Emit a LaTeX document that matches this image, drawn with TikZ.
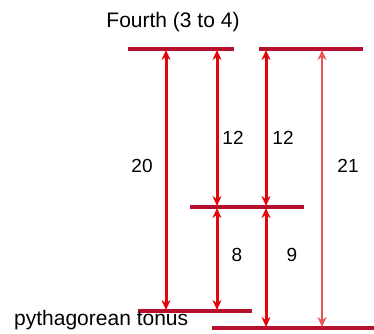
\documentclass[tikz,border=0pt]{standalone}
\usepackage{fontspec}
\setmainfont{Liberation Sans}
\usetikzlibrary{arrows.meta}
\definecolor{linered}{HTML}{B5102E}
\definecolor{arrred}{HTML}{E00808}
\definecolor{lightred}{HTML}{E85555}
\begin{document}
\begin{tikzpicture}[x=1pt,y=-1pt,
  level/.style={draw=linered,line width=3.4pt},
  interval/.style={draw=arrred,line width=3pt,{Stealth[length=10pt,width=9pt]}-{Stealth[length=10pt,width=9pt]}},
  lbl/.style={font=\fontsize{19}{19}\selectfont,inner sep=0pt},
  ttl/.style={font=\fontsize{21}{21}\selectfont,inner sep=0pt}]
\useasboundingbox (0,0) rectangle (374,333);
% levels
\coordinate (t1a) at (128,49); \coordinate (t1b) at (234,49);
\coordinate (t2a) at (259,49); \coordinate (t2b) at (363,49);
\coordinate (ma) at (190,207); \coordinate (mb) at (304,207);
\coordinate (la) at (138,311); \coordinate (lb) at (252,311);
\coordinate (ba) at (212,328); \coordinate (bb) at (374,328);
\draw[level] (t1a) -- (t1b);
\draw[level] (t2a) -- (t2b);
\draw[level] (ma) -- (mb);
\draw[level] (la) -- (lb);
\draw[level] (ba) -- (bb);
% arrow endpoints
\coordinate (a20t) at (166,50); \coordinate (a20b) at (166,310);
\coordinate (a12t) at (217,50); \coordinate (a12b) at (217,206);
\coordinate (b12t) at (266,50); \coordinate (b12b) at (266,206);
\coordinate (a21t) at (322,50); \coordinate (a21b) at (322,327);
\coordinate (a8t) at (217,208); \coordinate (a8b) at (217,310);
\coordinate (a9t) at (266,208); \coordinate (a9b) at (266,327);
\draw[interval] (a20t) -- (a20b);
\draw[interval] (a12t) -- (a12b);
\draw[interval] (b12t) -- (b12b);
\draw[interval,draw=lightred,line width=2.4pt] (a21t) -- (a21b);
\draw[interval] (a8t) -- (a8b);
\draw[interval] (a9t) -- (a9b);
% labels
\node[ttl] (title) at (173,22) {Fourth (3 to 4)};
\node[ttl,anchor=west] (pt) at (14,320) {pythagorean tonus};
\node[lbl] (l20) at (142,166) {20};
\node[lbl] (l12a) at (233,138) {12};
\node[lbl] (l12b) at (283,138) {12};
\node[lbl] (l21) at (348,166) {21};
\node[lbl] (l8) at (237,255) {8};
\node[lbl] (l9) at (292,255) {9};
\end{tikzpicture}
\end{document}
